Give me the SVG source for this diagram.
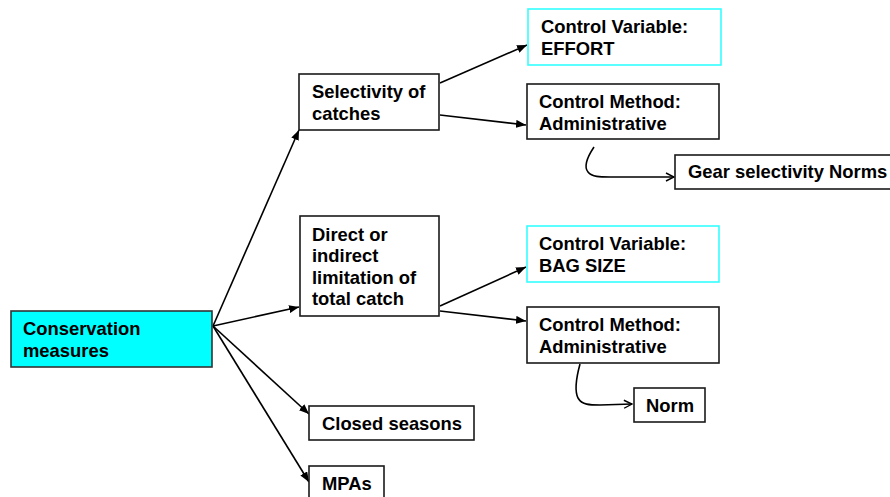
<svg xmlns="http://www.w3.org/2000/svg" width="890" height="497" viewBox="0 0 890 497">
<defs>
<style>
.box{fill:#ffffff;stroke:#1a1a1a;stroke-width:1.6}
.cyanfill{fill:#00ffff;stroke:#333333;stroke-width:1.6}
.cyanline{fill:#ffffff;stroke:#33ffff;stroke-width:1.6}
.t{font-family:"Liberation Sans",Arial,sans-serif;font-weight:bold;font-size:18.4px;fill:#000000}
.c{fill:none;stroke:#000000;stroke-width:1.6}
</style>
<marker id="ah" viewBox="0 0 10 8" refX="10" refY="4" markerWidth="10" markerHeight="8" markerUnits="userSpaceOnUse" orient="auto">
<path d="M0,0 L10,4 L0,8 Z" fill="#000000"/>
</marker>
<marker id="oh" viewBox="0 0 10 10" refX="9" refY="5" markerWidth="10" markerHeight="10" markerUnits="userSpaceOnUse" orient="auto">
<path d="M1,1 L9,5 L1,9" fill="none" stroke="#000000" stroke-width="1.4"/>
</marker>
</defs>
<rect width="890" height="497" fill="#ffffff"/>
<g id="connectors">
<line class="c" x1="213" y1="326" x2="299" y2="130" marker-end="url(#ah)"/>
<line class="c" x1="213" y1="326" x2="299" y2="307" marker-end="url(#ah)"/>
<line class="c" x1="213" y1="326" x2="309" y2="414" marker-end="url(#ah)"/>
<line class="c" x1="213" y1="326" x2="309" y2="482" marker-end="url(#ah)"/>
<line class="c" x1="440" y1="83" x2="527" y2="45" marker-end="url(#ah)"/>
<line class="c" x1="440" y1="115" x2="526" y2="125" marker-end="url(#ah)"/>
<line class="c" x1="440" y1="306" x2="526" y2="267" marker-end="url(#ah)"/>
<line class="c" x1="440" y1="311" x2="526" y2="321" marker-end="url(#ah)"/>
<path class="c" d="M594,147 C588,156 583,166 588,172 C592,177 600,177 610,177 L674,177" marker-end="url(#oh)"/>
<path class="c" d="M580,364 C577,375 574,390 578,398 C582,405 590,405 600,405 L632,404" marker-end="url(#oh)"/>
</g>
<g id="conservation">
<rect class="cyanfill" x="11" y="311" width="201" height="56"/>
<text class="t" x="23" y="335">Conservation</text>
<text class="t" x="23" y="357">measures</text>
</g>
<g id="selectivity">
<rect class="box" x="299" y="74" width="140" height="56"/>
<text class="t" x="312" y="98">Selectivity of</text>
<text class="t" x="312" y="120">catches</text>
</g>
<g id="direct">
<rect class="box" x="300" y="216" width="139" height="100"/>
<text class="t" x="312" y="241">Direct or</text>
<text class="t" x="312" y="262">indirect</text>
<text class="t" x="312" y="284">limitation of</text>
<text class="t" x="312" y="305">total catch</text>
</g>
<g id="closed">
<rect class="box" x="309" y="406" width="165" height="34"/>
<text class="t" x="322" y="430">Closed seasons</text>
</g>
<g id="mpas">
<rect class="box" x="309" y="466" width="75" height="40"/>
<text class="t" x="322" y="490">MPAs</text>
</g>
<g id="cv-effort">
<rect class="cyanline" x="528" y="9" width="193" height="56"/>
<text class="t" x="541" y="33">Control Variable:</text>
<text class="t" x="541" y="55">EFFORT</text>
</g>
<g id="cm-1">
<rect class="box" x="527" y="84" width="192" height="55"/>
<text class="t" x="539" y="108">Control Method:</text>
<text class="t" x="539" y="130">Administrative</text>
</g>
<g id="gear">
<rect class="box" x="675" y="155" width="220" height="34"/>
<text class="t" x="688" y="178">Gear selectivity Norms</text>
</g>
<g id="cv-bag">
<rect class="cyanline" x="527" y="226" width="192" height="56"/>
<text class="t" x="539" y="250">Control Variable:</text>
<text class="t" x="539" y="272">BAG SIZE</text>
</g>
<g id="cm-2">
<rect class="box" x="527" y="307" width="192" height="56"/>
<text class="t" x="539" y="331">Control Method:</text>
<text class="t" x="539" y="353">Administrative</text>
</g>
<g id="norm">
<rect class="box" x="634" y="388" width="71" height="34"/>
<text class="t" x="646" y="412">Norm</text>
</g>
</svg>
